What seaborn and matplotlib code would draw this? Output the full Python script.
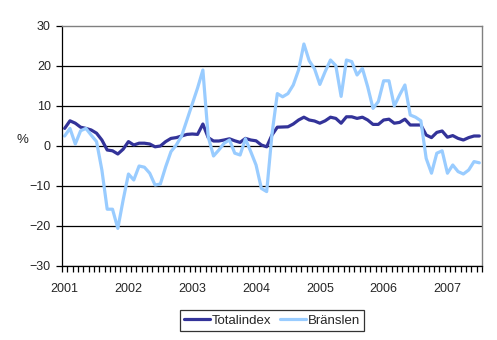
import numpy as np
import pandas as pd
import matplotlib
matplotlib.use("Agg")
import matplotlib.pyplot as plt
import seaborn as sns

# Monthly year-on-year change (%), January 2001 onwards
years = ["2001", "2002", "2003", "2004", "2005", "2006", "2007"]

totalindex = [
    4.4, 6.3, 5.7, 4.7, 4.4, 4.0, 3.2, 1.5, -1.0, -1.2, -2.0, -0.8,
    1.1, 0.25, 0.7, 0.7, 0.5, -0.2, 0.0, 1.1, 1.9, 2.1, 2.5, 2.9,
    3.0, 2.9, 5.5, 2.1, 1.25, 1.25, 1.5, 1.8, 1.3, 0.9, 1.9, 1.5,
    1.3, 0.25, -0.2, 2.75, 4.7, 4.75, 4.8, 5.5, 6.5, 7.2, 6.5, 6.25,
    5.7, 6.3, 7.2, 6.9, 5.7, 7.3, 7.3, 6.9, 7.2, 6.5, 5.4, 5.4,
    6.5, 6.7, 5.7, 5.9, 6.7, 5.25, 5.25, 5.25, 2.75, 2.1, 3.4, 3.75,
    2.2, 2.6, 1.9, 1.5, 2.1, 2.5, 2.5,
]

branslen = [
    2.5, 4.4, 0.5, 3.8, 4.4, 2.7, 1.1, -6.0, -15.8, -15.8, -20.6, -13.5,
    -7.0, -8.5, -5.0, -5.3, -6.8, -9.75, -9.5, -5.2, -1.4, 0.25, 2.5, 6.5,
    10.5, 14.5, 19.0, 2.3, -2.5, -1.0, 0.7, 1.5, -1.8, -2.25, 1.8, -1.4,
    -4.75, -10.6, -11.4, 3.0, 13.1, 12.3, 13.1, 15.25, 19.0, 25.5, 21.3, 19.3,
    15.4, 18.6, 21.5, 20.1, 12.4, 21.5, 21.1, 17.75, 19.4, 14.8, 9.4, 11.1,
    16.3, 16.3, 10.0, 12.75, 15.25, 7.75, 7.2, 6.3, -3.1, -6.8, -1.8, -1.2,
    -6.8, -4.75, -6.4, -7.0, -6.0, -3.9, -4.2,
]

series_names = ["Totalindex", "Bränslen"]
colors = ["#333399", "#99CCFF"]

month = np.arange(len(totalindex))
df = pd.concat([
    pd.DataFrame({"month": month, "value": totalindex, "series": series_names[0]}),
    pd.DataFrame({"month": month, "value": branslen, "series": series_names[1]}),
])

sns.set_style("white")
plt.rcParams["font.family"] = ["Liberation Sans", "DejaVu Sans"]

fig = plt.figure(figsize=(4.97, 3.40), dpi=100)
ax = fig.add_axes([62 / 497, 74 / 340, 420 / 497, 240 / 340])

sns.lineplot(data=df, x="month", y="value", hue="series",
             hue_order=series_names, palette=colors, linewidth=2.3,
             ax=ax, legend=True)

# y axis
ax.set_ylim(-30, 30)
ax.set_yticks(np.arange(-30, 31, 10))
ax.yaxis.grid(True, color="black", linewidth=0.9)
ax.get_ygridlines()[-1].set_visible(False)
ax.set_axisbelow(True)
ax.tick_params(axis="y", which="major", direction="out", length=4,
               width=0.9, color="black", labelsize=9, pad=4, left=True)
ax.set_ylabel("%", rotation=0, fontsize=9.5, labelpad=0)
ax.yaxis.set_label_coords(-0.095, 0.5)

# x axis: one tick per month boundary, year labels under January
n = len(month)
ax.set_xlim(-0.5, n - 0.5)
ax.set_xticks(np.arange(0, n, 12))
ax.set_xticklabels(years)
ax.set_xticks(np.arange(-0.5, n, 1), minor=True)
ax.tick_params(axis="x", which="major", length=0, labelsize=9, pad=12)
ax.tick_params(axis="x", which="minor", direction="out", length=4,
               width=0.9, color="black", bottom=True)
ax.set_xlabel("")

for side in ("left", "bottom"):
    ax.spines[side].set_color("black")
    ax.spines[side].set_linewidth(0.9)
for side in ("top", "right"):
    ax.spines[side].set_color("#808080")
    ax.spines[side].set_linewidth(1.0)

handles, labels = ax.get_legend_handles_labels()
ax.get_legend().remove()
leg = fig.legend(handles, labels, loc="center", bbox_to_anchor=(272 / 497, 1 - 320.5 / 340),
                 ncol=2, frameon=True, fancybox=False, fontsize=9.5,
                 handlelength=2.0, handletextpad=0.15, columnspacing=0.6,
                 borderpad=0.3, borderaxespad=0)
leg.get_frame().set_edgecolor("black")
leg.get_frame().set_linewidth(0.9)
for line in leg.get_lines():
    line.set_linewidth(2.3)

fig.savefig("out.png", dpi=100)
